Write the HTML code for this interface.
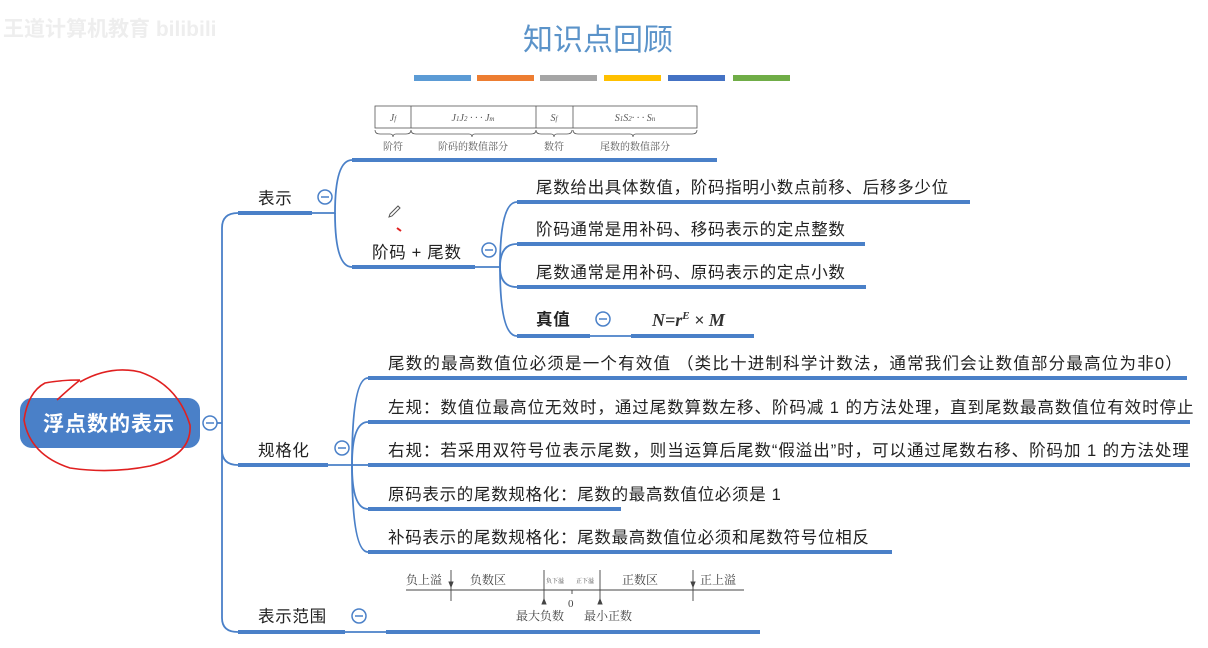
<!DOCTYPE html>
<html><head><meta charset="utf-8"><style>
html,body{margin:0;padding:0;background:#fff;}
svg{display:block;font-family:"Liberation Sans","Noto Sans CJK SC",sans-serif;}
</style></head><body>
<svg width="1208" height="648" viewBox="0 0 1208 648" xmlns="http://www.w3.org/2000/svg">
<text x="3" y="36" font-size="21" fill="#eeeeee" font-weight="bold">王道计算机教育 bilibili</text>
<text x="598" y="50" font-size="30" fill="#5b93c9" text-anchor="middle">知识点回顾</text>
<g>
<rect x="414" y="75" width="57" height="6" fill="#5b9bd5"/>
<rect x="477" y="75" width="57" height="6" fill="#ed7d31"/>
<rect x="540" y="75" width="57" height="6" fill="#a5a5a5"/>
<rect x="604" y="75" width="57" height="6" fill="#ffc000"/>
<rect x="668" y="75" width="57" height="6" fill="#4472c4"/>
<rect x="733" y="75" width="57" height="6" fill="#70ad47"/>
</g>
<g stroke="#4a80c8" fill="none" stroke-width="1.8">
<path d="M222 423 L212 423"/>
<path d="M238 213 Q222 213 222 228 L222 618 Q222 632 238 632"/>
<path d="M222 450 Q222 465 238 465"/>
<path d="M312 213 L335 213 Q335 160 352 160"/>
<path d="M335 213 Q335 267 352 267"/>
<path d="M475 267 L500 267 Q500 202 517 202"/>
<path d="M500 267 Q500 244 517 244"/>
<path d="M500 267 Q500 287 517 287"/>
<path d="M500 267 Q500 336 517 336"/>
<path d="M590 336 L631 336"/>
<path d="M328 465 L352 465 Q352 378 368 378"/>
<path d="M352 465 Q352 422 368 422"/>
<path d="M352 465 L368 465"/>
<path d="M352 465 Q352 509 368 509"/>
<path d="M352 465 Q352 552 368 552"/>
<path d="M345 632 L386 632"/>
</g>
<g fill="#4a80c8">
<rect x="238" y="211" width="74" height="4"/>
<rect x="238" y="463" width="90" height="4"/>
<rect x="238" y="630" width="107" height="4"/>
<rect x="386" y="630" width="374" height="4"/>
<rect x="352" y="158" width="365" height="4"/>
<rect x="352" y="265" width="123" height="4"/>
<rect x="517" y="200" width="453" height="4"/>
<rect x="517" y="242" width="348" height="4"/>
<rect x="517" y="285" width="349" height="4"/>
<rect x="517" y="334" width="73" height="4"/>
<rect x="631" y="334" width="123" height="4"/>
<rect x="368" y="376" width="819" height="4"/>
<rect x="368" y="420" width="822" height="4"/>
<rect x="368" y="463" width="822" height="4"/>
<rect x="368" y="507" width="253" height="4"/>
<rect x="368" y="550" width="524" height="4"/>
</g>
<rect x="20" y="398" width="180" height="50" rx="12" fill="#4a80c8"/>
<text x="109" y="431" font-size="21" fill="#fff" text-anchor="middle" font-weight="bold" letter-spacing="1">浮点数的表示</text>
<path d="M80 382 Q110 365 140 372 Q178 385 190 425 Q192 455 150 466 Q110 474 70 468 Q30 455 24 420 Q28 392 45 383 Q60 380 80 380 M57 400 Q70 388 80 380" stroke="#e02020" stroke-width="1.6" fill="none"/>
<g stroke="#4a80c8" fill="#fff" stroke-width="1.5">
<circle cx="210" cy="423" r="7"/><circle cx="325" cy="197" r="7"/><circle cx="342" cy="448" r="7"/><circle cx="359" cy="616" r="7"/><circle cx="489" cy="250" r="7"/><circle cx="603" cy="319" r="7"/>
</g>
<g stroke="#4a80c8" stroke-width="1.5">
<path d="M206 423h8M321 197h8M338 448h8M355 616h8M485 250h8M599 319h8"/>
</g>
<g font-size="16.5" fill="#222" letter-spacing="0.7">
<text x="258" y="204">表示</text>
<text x="258" y="456">规格化</text>
<text x="258" y="622">表示范围</text>
<text x="372" y="258">阶码 + 尾数</text>
<text x="536" y="193">尾数给出具体数值，阶码指明小数点前移、后移多少位</text>
<text x="536" y="235">阶码通常是用补码、移码表示的定点整数</text>
<text x="536" y="278">尾数通常是用补码、原码表示的定点小数</text>
<text x="536" y="325" font-weight="bold">真值</text>
<text x="388" y="369" letter-spacing="1.2">尾数的最高数值位必须是一个有效值 （类比十进制科学计数法，通常我们会让数值部分最高位为非0）</text>
<text x="388" y="413" letter-spacing="0.95">左规：数值位最高位无效时，通过尾数算数左移、阶码减 1 的方法处理，直到尾数最高数值位有效时停止</text>
<text x="388" y="456" letter-spacing="0.95">右规：若采用双符号位表示尾数，则当运算后尾数“假溢出”时，可以通过尾数右移、阶码加 1 的方法处理</text>
<text x="388" y="500">原码表示的尾数规格化：尾数的最高数值位必须是 1</text>
<text x="388" y="543">补码表示的尾数规格化：尾数最高数值位必须和尾数符号位相反</text>
</g>
<text x="652" y="326" font-family="Liberation Serif,serif" font-style="italic" font-weight="bold" font-size="18" fill="#333">N=r<tspan dy="-7" font-size="11">E</tspan><tspan dy="7"> × M</tspan></text>
<path d="M390 214 l8 -8 l2 2 l-8 8 l-3 1z" stroke="#555" fill="none" stroke-width="1"/>
<path d="M397 228 l4 3" stroke="#e02020" stroke-width="2"/>
<g stroke="#555" fill="none" stroke-width="0.8">
<rect x="375" y="106" width="322" height="22"/>
<path d="M411 106v22M536 106v22M573 106v22"/>
<path d="M375 130 q0 4 5 4 h10 q3 0 3 3 q0-3 3-3 h10 q5 0 5-4"/>
<path d="M411 130 q0 4 5 4 h53 q3 0 3 3 q0-3 3-3 h56 q5 0 5-4"/>
<path d="M536 130 q0 4 5 4 h10 q3 0 3 3 q0-3 3-3 h10 q5 0 5-4"/>
<path d="M573 130 q0 4 5 4 h52 q3 0 3 3 q0-3 3-3 h56 q5 0 5-4"/>
</g>
<g font-size="10" fill="#555" font-family="Liberation Serif,'Noto Serif CJK SC',serif" text-anchor="middle">
<text x="393" y="121" font-style="italic">J<tspan font-size="7">f</tspan></text>
<text x="473" y="121" font-style="italic">J<tspan font-size="7">1</tspan>J<tspan font-size="7">2</tspan> · · · J<tspan font-size="7">m</tspan></text>
<text x="554" y="121" font-style="italic">S<tspan font-size="7">f</tspan></text>
<text x="635" y="121" font-style="italic">S<tspan font-size="7">1</tspan>S<tspan font-size="7">2</tspan>· · · S<tspan font-size="7">n</tspan></text>
<text x="393" y="150">阶符</text>
<text x="473" y="150">阶码的数值部分</text>
<text x="554" y="150">数符</text>
<text x="635" y="150">尾数的数值部分</text>
</g>
<g stroke="#444" stroke-width="0.9" fill="#444">
<path d="M406 590 H744" fill="none"/>
<path d="M451 570 V601 M544 570 V601 M600 570 V601 M693 570 V601 M572 590 v4" fill="none"/>
<path d="M449 582 l2 5 l2-5z M691 582 l2 5 l2-5z M542 604 l2-5 l2 5z M598 604 l2-5 l2 5z"/>
</g>
<g font-size="12" fill="#444" font-family="Liberation Serif,'Noto Serif CJK SC',serif">
<text x="406" y="584">负上溢</text>
<text x="470" y="584">负数区</text>
<text x="546" y="583" font-size="6">负下溢</text>
<text x="576" y="583" font-size="6">正下溢</text>
<text x="622" y="584">正数区</text>
<text x="700" y="584">正上溢</text>
<text x="568" y="607" font-size="11">0</text>
<text x="516" y="620">最大负数</text>
<text x="584" y="620">最小正数</text>
</g>
</svg>
</body></html>
